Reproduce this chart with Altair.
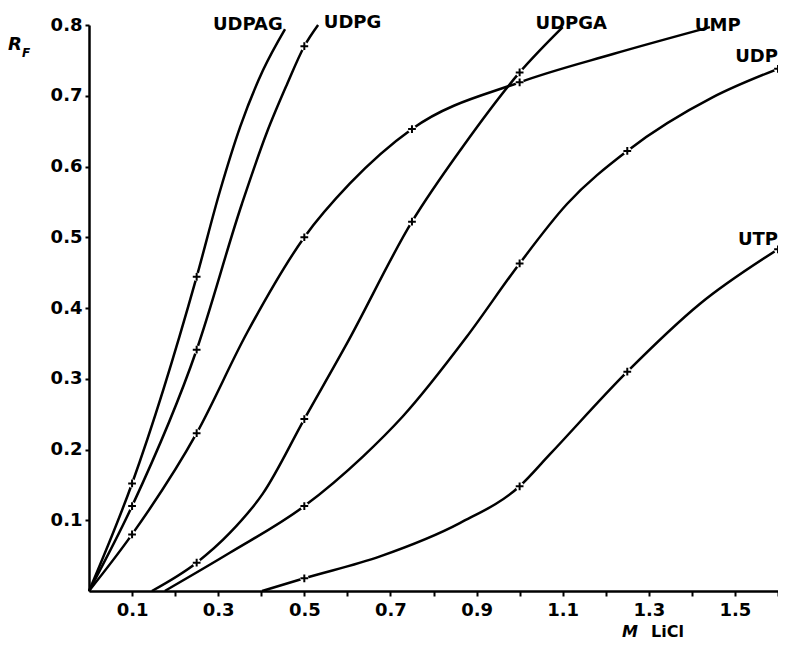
import altair as alt
import pandas as pd

# ---- data ----
series_names = ["UDPAG", "UDPG", "UMP", "UDPGA", "UDP", "UTP"]

UDPAG_x = [0, 0.1, 0.25, 0.304, 0.351, 0.404, 0.455]
UDPAG_y = [0, 0.152, 0.444, 0.565, 0.656, 0.736, 0.794]
UDPAG_m = [0, 1, 1, 0, 0, 0, 0]

UDPG_x = [0, 0.1, 0.25, 0.355, 0.413, 0.459, 0.5, 0.532]
UDPG_y = [0, 0.12, 0.341, 0.547, 0.648, 0.715, 0.770, 0.80]
UDPG_m = [0, 1, 1, 0, 0, 0, 1, 0]

UMP_x = [0, 0.1, 0.25, 0.367, 0.5, 0.606, 0.75, 1.0, 1.217, 1.442]
UMP_y = [0, 0.08, 0.223, 0.365, 0.5, 0.576, 0.653, 0.719, 0.759, 0.797]
UMP_m = [0, 1, 1, 0, 1, 0, 1, 1, 0, 0]

UDPGA_x = [0.146, 0.25, 0.327, 0.404, 0.5, 0.599, 0.75, 0.868, 1.0, 1.10]
UDPGA_y = [0, 0.04, 0.082, 0.138, 0.243, 0.350, 0.522, 0.628, 0.733, 0.797]
UDPGA_m = [0, 1, 0, 0, 1, 0, 1, 0, 1, 0]

UDP_x = [0.176, 0.327, 0.5, 0.636, 0.729, 0.878, 1.0, 1.11, 1.25, 1.449, 1.6]
UDP_y = [0, 0.054, 0.12, 0.19, 0.247, 0.36, 0.463, 0.547, 0.622, 0.698, 0.738]
UDP_m = [0, 0, 1, 0, 0, 0, 1, 0, 1, 0, 1]

UTP_x = [0.402, 0.5, 0.676, 0.861, 1.0, 1.07, 1.25, 1.419, 1.6]
UTP_y = [0, 0.018, 0.049, 0.096, 0.148, 0.193, 0.31, 0.406, 0.483]
UTP_m = [0, 1, 0, 0, 1, 0, 1, 0, 1]

label_names = ["UDPAG", "UDPG", "UDPGA", "UMP", "UDP", "UTP"]
label_x = [0.369, 0.612, 1.12, 1.46, 1.6, 1.6]
label_y = [0.793, 0.796, 0.795, 0.791, 0.748, 0.489]
label_right = [0, 0, 0, 0, 1, 1]

x_tick_values = [0.1, 0.2, 0.3, 0.4, 0.5, 0.6, 0.7, 0.8, 0.9, 1.0,
                 1.1, 1.2, 1.3, 1.4, 1.5, 1.6]
x_tick_labels = ["0.1", "0.3", "0.5", "0.7", "0.9", "1.1", "1.3", "1.5"]
y_tick_values = [0.1, 0.2, 0.3, 0.4, 0.5, 0.6, 0.7, 0.8]

# ---- build table ----
src = {
    "UDPAG": (UDPAG_x, UDPAG_y, UDPAG_m),
    "UDPG": (UDPG_x, UDPG_y, UDPG_m),
    "UMP": (UMP_x, UMP_y, UMP_m),
    "UDPGA": (UDPGA_x, UDPGA_y, UDPGA_m),
    "UDP": (UDP_x, UDP_y, UDP_m),
    "UTP": (UTP_x, UTP_y, UTP_m),
}
rows = []
for name in series_names:
    xs, ys, ms = src[name]
    for i, (xv, yv, mv) in enumerate(zip(xs, ys, ms)):
        rows.append({"series": name, "x": xv, "y": yv, "marked": mv, "order": i})
df = pd.DataFrame(rows)

labels_df = pd.DataFrame({"name": label_names, "x": label_x, "y": label_y,
                          "right": label_right})

FONT = "DejaVu Sans"

label_list = ",".join("'" + s + "'" for s in x_tick_labels)
x_label_expr = ("indexof([" + label_list + "], format(datum.value, '.1f')) >= 0"
                " ? format(datum.value, '.1f') : ''")

xscale = alt.Scale(domain=[0, 1.6], nice=False, zero=True)
yscale = alt.Scale(domain=[0, 0.8], nice=False, zero=True)

xaxis = alt.Axis(values=x_tick_values, labelExpr=x_label_expr, title=None,
                 labelPadding=5, tickSize=5, labelFlush=False)
yaxis = alt.Axis(values=y_tick_values, format=".1f", title=None,
                 labelPadding=3, tickSize=4)

X = alt.X("x:Q", scale=xscale, axis=xaxis)
Y = alt.Y("y:Q", scale=yscale, axis=yaxis)

lines = alt.Chart(df).mark_line(
    interpolate="monotone", color="black", strokeWidth=2.5
).encode(x=X, y=Y, detail="series:N", order="order:Q")

marked = alt.Chart(df).transform_filter(alt.datum.marked == 1)

gaps = marked.mark_point(
    shape="circle", filled=True, color="white", opacity=1, size=70
).encode(x=X, y=Y)

crosses = marked.mark_point(
    shape="M-1,0L1,0M0,-1L0,1", filled=False, color="black", opacity=1,
    size=60, strokeWidth=2
).encode(x=X, y=Y)

label_base = alt.Chart(labels_df)
labels_center = label_base.transform_filter(alt.datum.right == 0).mark_text(
    font=FONT, fontSize=18, fontWeight="bold", color="black",
    baseline="alphabetic", align="center"
).encode(x=X, y=Y, text="name:N")
labels_right = label_base.transform_filter(alt.datum.right == 1).mark_text(
    font=FONT, fontSize=18, fontWeight="bold", color="black",
    baseline="alphabetic", align="right"
).encode(x=X, y=Y, text="name:N")

r_df = pd.DataFrame({"t": ["R"]})
f_df = pd.DataFrame({"t": ["F"]})
m_df = pd.DataFrame({"t": ["M"]})
licl_df = pd.DataFrame({"t": ["LiCl"]})

r_text = alt.Chart(r_df).mark_text(
    font=FONT, fontSize=18, fontStyle="italic", fontWeight="bold",
    align="left", baseline="alphabetic", color="black"
).encode(x=alt.value(-81), y=alt.value(25), text="t:N")
f_text = alt.Chart(f_df).mark_text(
    font=FONT, fontSize=12, fontStyle="italic", fontWeight="bold",
    align="left", baseline="alphabetic", color="black"
).encode(x=alt.value(-67), y=alt.value(32), text="t:N")
m_text = alt.Chart(m_df).mark_text(
    font=FONT, fontSize=16, fontStyle="italic", fontWeight="bold",
    align="left", baseline="alphabetic", color="black"
).encode(x=alt.value(533), y=alt.value(612), text="t:N")
licl_text = alt.Chart(licl_df).mark_text(
    font=FONT, fontSize=16, fontWeight="bold",
    align="left", baseline="alphabetic", color="black"
).encode(x=alt.value(562), y=alt.value(612), text="t:N")

chart = alt.layer(
    lines, gaps, crosses, labels_center, labels_right,
    r_text, f_text, m_text, licl_text
).properties(
    width=689, height=566,
    padding={"left": 81, "top": 17, "right": 0, "bottom": 52},
    autosize=alt.AutoSizeParams(type="none"),
    background="white",
).configure_view(
    stroke="transparent"
).configure_axis(
    grid=False,
    domainColor="black", domainWidth=2.5,
    tickColor="black", tickWidth=2,
    labelFont=FONT, labelFontSize=18, labelFontWeight="bold",
    labelColor="black",
)

chart.save("out.html", embed_options={"renderer": "svg", "actions": False})
